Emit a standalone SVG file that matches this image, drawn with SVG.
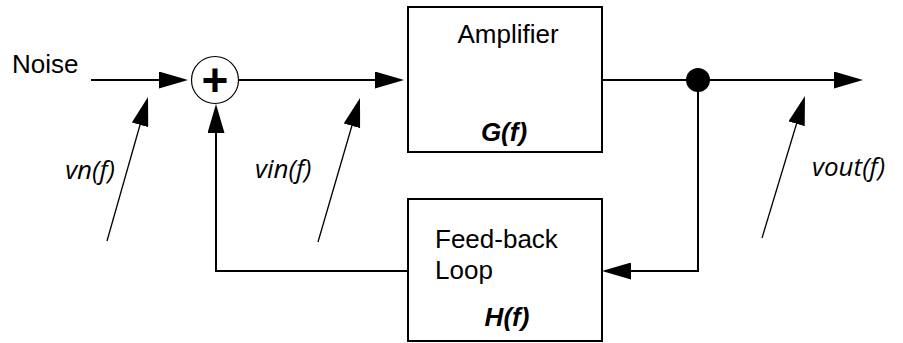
<svg xmlns="http://www.w3.org/2000/svg" width="903" height="343" viewBox="0 0 903 343">
<style>
.box{fill:#fff;stroke:#000;stroke-width:2}
.wire{fill:none;stroke:#000;stroke-width:2}
.thin{fill:none;stroke:#000;stroke-width:1.3}
.lbl{font-family:"Liberation Sans",Arial,sans-serif;font-size:26px;fill:#000}
.fn{font-family:"Liberation Sans",Arial,sans-serif;font-size:26px;font-weight:bold;font-style:italic;fill:#000}
.sig{font-family:"Open Sans","Liberation Sans",sans-serif;font-size:26px;font-style:italic;fill:#000}
</style>
<defs>
<marker id="ah" viewBox="0 0 29 17" refX="25" refY="8.5" markerWidth="29" markerHeight="17" markerUnits="userSpaceOnUse" orient="auto">
<path d="M0,0 L29,8.5 L0,17 Z" fill="#000"/>
</marker>
</defs>
<rect width="903" height="343" fill="#fff"/>
<g id="connectors">
<path class="wire" d="M91,80 H184" marker-end="url(#ah)"/>
<path class="wire" d="M238.5,80 H400" marker-end="url(#ah)"/>
<path class="wire" d="M602,80 H859" marker-end="url(#ah)"/>
<path class="wire" d="M698,80 V271 H606" marker-end="url(#ah)"/>
<path class="wire" d="M408,271 H216 V108" marker-end="url(#ah)"/>
<path class="thin" d="M107,241 L146.9,100.8" marker-end="url(#ah)"/>
<path class="thin" d="M318,242 L358.9,101.8" marker-end="url(#ah)"/>
<path class="thin" d="M762,238 L803.8,99.8" marker-end="url(#ah)"/>
</g>
<g id="noise">
<text class="lbl" x="12" y="73">Noise</text>
</g>
<g id="sum">
<circle cx="215" cy="80" r="23.5" fill="#fff" stroke="#000" stroke-width="1.2"/>
<text x="215" y="96" text-anchor="middle" font-family="Liberation Sans, Arial, sans-serif" font-size="46" font-weight="bold">+</text>
</g>
<g id="amplifier">
<rect class="box" x="408" y="7" width="194" height="145"/>
<text class="lbl" x="508" y="43" text-anchor="middle">Amplifier</text>
<text class="fn" x="504" y="141" text-anchor="middle">G(f)</text>
</g>
<g id="feedback">
<rect class="box" x="408" y="199" width="194" height="142"/>
<text class="lbl" x="435" y="248">Feed-back</text>
<text class="lbl" x="435" y="279">Loop</text>
<text class="fn" x="507" y="326" text-anchor="middle">H(f)</text>
</g>
<g id="node">
<circle cx="698" cy="80" r="12" fill="#000"/>
</g>
<g id="labels">
<text class="sig" x="115" y="179" text-anchor="end">vn(f)</text>
<text class="sig" x="255" y="178">vin(f)</text>
<text class="sig" x="812" y="176">vout(f)</text>
</g>
</svg>
